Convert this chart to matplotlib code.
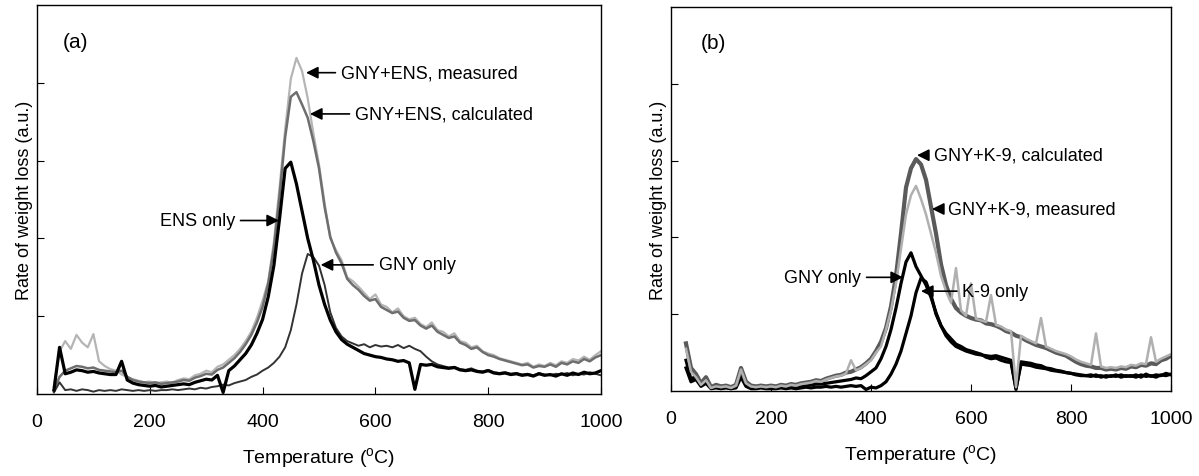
import numpy as np
import matplotlib
matplotlib.use("Agg")
import matplotlib.pyplot as plt

plt.rcParams['font.family'] = ['Liberation Sans', 'DejaVu Sans']
plt.rcParams['mathtext.fontset'] = 'custom'
plt.rcParams['mathtext.rm'] = 'Liberation Sans'

# Temperature grid (oC) shared by all curves
temp = np.arange(30, 1001, 10)

# (a) GNY + ENS
a_measured = [
    0.10, 0.55, 0.68, 0.58, 0.76, 0.66, 0.60, 0.77, 0.42, 0.36,
    0.32, 0.30, 0.25, 0.22, 0.19, 0.17, 0.15, 0.16, 0.14, 0.15,
    0.16, 0.14, 0.18, 0.20, 0.19, 0.24, 0.26, 0.30, 0.28, 0.35,
    0.38, 0.44, 0.50, 0.58, 0.68, 0.80, 0.98, 1.20, 1.45, 1.95,
    2.65, 3.40, 4.05, 4.32, 4.15, 3.80, 3.35, 2.95, 2.45, 2.00,
    1.85, 1.72, 1.50, 1.45, 1.38, 1.30, 1.22, 1.28, 1.15, 1.12,
    1.05, 1.10, 1.00, 0.96, 0.98, 0.90, 0.86, 0.92, 0.82, 0.80,
    0.74, 0.78, 0.68, 0.66, 0.60, 0.62, 0.55, 0.52, 0.50, 0.46,
    0.44, 0.42, 0.40, 0.38, 0.40, 0.35, 0.38, 0.36, 0.40, 0.37,
    0.42, 0.40, 0.45, 0.43, 0.48, 0.44, 0.50, 0.55]
a_calculated = [
    0.05, 0.22, 0.30, 0.33, 0.36, 0.35, 0.33, 0.34, 0.31, 0.30,
    0.29, 0.28, 0.30, 0.22, 0.18, 0.16, 0.15, 0.14, 0.15, 0.13,
    0.14, 0.15, 0.16, 0.18, 0.17, 0.21, 0.23, 0.26, 0.25, 0.31,
    0.34, 0.40, 0.46, 0.54, 0.64, 0.76, 0.92, 1.12, 1.42, 1.88,
    2.55, 3.30, 3.82, 3.88, 3.72, 3.55, 3.25, 2.90, 2.40, 2.02,
    1.82, 1.68, 1.48, 1.40, 1.34, 1.26, 1.20, 1.22, 1.12, 1.08,
    1.04, 1.06, 0.98, 0.94, 0.95, 0.88, 0.84, 0.88, 0.80, 0.76,
    0.72, 0.74, 0.66, 0.63, 0.58, 0.60, 0.54, 0.50, 0.48, 0.45,
    0.43, 0.41, 0.39, 0.37, 0.38, 0.34, 0.36, 0.35, 0.38, 0.35,
    0.40, 0.38, 0.42, 0.40, 0.45, 0.42, 0.47, 0.50]
a_ens = [
    0.05, 0.60, 0.26, 0.28, 0.31, 0.30, 0.28, 0.29, 0.27, 0.26,
    0.25, 0.25, 0.42, 0.18, 0.14, 0.12, 0.11, 0.10, 0.11, 0.09,
    0.10, 0.11, 0.12, 0.13, 0.12, 0.15, 0.17, 0.19, 0.18, 0.24,
    0.02, 0.30, 0.36, 0.44, 0.52, 0.63, 0.78, 0.96, 1.25, 1.65,
    2.25, 2.90, 2.98, 2.70, 2.35, 2.00, 1.72, 1.40, 1.15, 0.95,
    0.80, 0.70, 0.64, 0.60, 0.56, 0.52, 0.50, 0.48, 0.47, 0.45,
    0.44, 0.42, 0.43, 0.40, 0.06, 0.38, 0.37, 0.38, 0.35, 0.34,
    0.33, 0.34, 0.31, 0.30, 0.31, 0.29, 0.28, 0.30, 0.27, 0.26,
    0.27, 0.25, 0.26, 0.24, 0.25, 0.23, 0.26, 0.24, 0.25, 0.23,
    0.26, 0.24, 0.27, 0.25, 0.28, 0.26, 0.27, 0.30]
a_gny = [
    0.02, 0.15, 0.05, 0.06, 0.04, 0.06, 0.05, 0.03, 0.05, 0.04,
    0.05, 0.04, 0.06, 0.05, 0.04, 0.05, 0.04, 0.05, 0.04, 0.05,
    0.05, 0.06, 0.05, 0.06, 0.07, 0.06, 0.08, 0.07, 0.09, 0.10,
    0.12, 0.11, 0.14, 0.16, 0.18, 0.22, 0.25, 0.30, 0.34, 0.40,
    0.48, 0.60, 0.82, 1.15, 1.55, 1.80, 1.76, 1.65, 1.40, 1.05,
    0.85, 0.74, 0.68, 0.65, 0.62, 0.64, 0.60, 0.63, 0.61, 0.62,
    0.60, 0.63, 0.59, 0.62, 0.58, 0.55, 0.48, 0.42, 0.38, 0.36,
    0.34, 0.35, 0.32, 0.31, 0.33, 0.30, 0.29, 0.31, 0.28, 0.27,
    0.28, 0.26, 0.27, 0.25, 0.26, 0.24, 0.27, 0.25, 0.24, 0.26,
    0.25, 0.27, 0.24, 0.26, 0.25, 0.28, 0.26, 0.24]

# (b) GNY + K-9
b_calculated = [
    0.62, 0.30, 0.22, 0.10, 0.18, 0.05, 0.08, 0.06, 0.07, 0.05,
    0.08, 0.30, 0.12, 0.07, 0.06, 0.07, 0.06, 0.07, 0.06, 0.08,
    0.07, 0.09, 0.08, 0.10, 0.11, 0.12, 0.14, 0.13, 0.16, 0.18,
    0.20, 0.21, 0.24, 0.25, 0.28, 0.31, 0.36, 0.42, 0.52, 0.64,
    0.82, 1.10, 1.50, 2.05, 2.65, 2.90, 3.02, 2.95, 2.75, 2.40,
    2.05, 1.65, 1.38, 1.20, 1.08, 1.02, 0.98, 0.95, 0.93, 0.92,
    0.88, 0.87, 0.85, 0.82, 0.78, 0.76, 0.72, 0.70, 0.66, 0.63,
    0.60, 0.58, 0.56, 0.53, 0.50, 0.48, 0.46, 0.42, 0.38, 0.35,
    0.33, 0.32, 0.30, 0.30, 0.28, 0.29, 0.28, 0.30, 0.29, 0.32,
    0.31, 0.34, 0.33, 0.36, 0.35, 0.40, 0.42, 0.46]
b_measured = [
    0.55, 0.25, 0.18, 0.08, 0.14, 0.04, 0.06, 0.05, 0.06, 0.04,
    0.07, 0.28, 0.10, 0.06, 0.05, 0.06, 0.05, 0.06, 0.05, 0.07,
    0.06, 0.08, 0.07, 0.09, 0.10, 0.11, 0.13, 0.12, 0.15, 0.17,
    0.19, 0.20, 0.23, 0.40, 0.27, 0.30, 0.35, 0.40, 0.50, 0.58,
    0.80, 1.05, 1.40, 1.85, 2.30, 2.55, 2.67, 2.50, 2.30, 2.05,
    1.80, 1.50, 1.30, 1.15, 1.60, 1.05, 0.98, 1.40, 0.94, 0.92,
    0.90, 1.25, 0.86, 0.84, 0.80, 0.78, 0.05, 0.72, 0.68, 0.65,
    0.62, 0.95, 0.58, 0.55, 0.52, 0.50, 0.48, 0.45, 0.41, 0.38,
    0.36, 0.34, 0.75, 0.32, 0.30, 0.31, 0.30, 0.32, 0.31, 0.34,
    0.33, 0.36, 0.35, 0.70, 0.38, 0.42, 0.45, 0.48]
b_gny = [
    0.40, 0.15, 0.20, 0.08, 0.12, 0.04, 0.05, 0.04, 0.05, 0.03,
    0.06, 0.22, 0.08, 0.04, 0.04, 0.05, 0.04, 0.05, 0.04, 0.05,
    0.05, 0.06, 0.05, 0.07, 0.07, 0.08, 0.09, 0.09, 0.10, 0.11,
    0.12, 0.13, 0.14, 0.15, 0.17, 0.16, 0.20, 0.25, 0.30, 0.42,
    0.58, 0.80, 1.08, 1.40, 1.68, 1.80, 1.62, 1.50, 1.38, 1.22,
    1.02, 0.85, 0.72, 0.64, 0.58, 0.55, 0.52, 0.50, 0.48, 0.47,
    0.46, 0.45, 0.46, 0.44, 0.42, 0.40, 0.02, 0.38, 0.37, 0.36,
    0.34, 0.33, 0.30, 0.29, 0.27, 0.26, 0.24, 0.23, 0.22, 0.21,
    0.20, 0.21, 0.19, 0.20, 0.18, 0.20, 0.19, 0.21, 0.19, 0.20,
    0.18, 0.21, 0.19, 0.20, 0.18, 0.21, 0.20, 0.22]
b_k9 = [
    0.30, 0.12, 0.15, 0.06, 0.10, 0.03, 0.04, 0.03, 0.04, 0.03,
    0.04, 0.18, 0.06, 0.03, 0.03, 0.04, 0.03, 0.03, 0.03, 0.04,
    0.03, 0.04, 0.03, 0.04, 0.05, 0.04, 0.05, 0.05, 0.06, 0.05,
    0.06, 0.05, 0.06, 0.07, 0.06, 0.07, 0.02, 0.05, 0.04, 0.07,
    0.12, 0.22, 0.35, 0.52, 0.75, 0.98, 1.28, 1.47, 1.42, 1.25,
    1.00, 0.85, 0.75, 0.68, 0.61, 0.58, 0.54, 0.52, 0.50, 0.48,
    0.44, 0.42, 0.43, 0.40, 0.38, 0.37, 0.03, 0.35, 0.34, 0.33,
    0.31, 0.30, 0.29, 0.27, 0.26, 0.25, 0.24, 0.23, 0.21, 0.20,
    0.20, 0.19, 0.21, 0.18, 0.20, 0.19, 0.21, 0.18, 0.20, 0.19,
    0.21, 0.18, 0.22, 0.19, 0.21, 0.20, 0.23, 0.21]

xticks = [0, 200, 400, 600, 800, 1000]
yticks = [1, 2, 3, 4]

fig = plt.figure(figsize=(11.99, 4.77), dpi=100)
ax_a = fig.add_axes([37 / 1199, 82 / 477, 564 / 1199, 389 / 477])
ax_b = fig.add_axes([671 / 1199, 85 / 477, 500 / 1199, 384 / 477])


def style_axis(ax):
    ax.set_xlim(0, 1000)
    ax.set_ylim(0, 5)
    ax.set_xticks(xticks)
    ax.set_yticks(yticks)
    ax.tick_params(direction='in', length=5, width=0.8, labelsize=14, pad=14,
                   labelleft=False)
    for s in ax.spines.values():
        s.set_linewidth(1.0)
    ax.set_xlabel('Temperature ($^{\\rm o}$C)', fontsize=14, labelpad=11)
    ax.set_ylabel('Rate of weight loss (a.u.)', fontsize=13, labelpad=3)


arrow = dict(arrowstyle='-|>', color='black', lw=1.2, mutation_scale=18,
             shrinkA=2, shrinkB=0)

# panel (a)
ax_a.plot(temp, a_measured, color='#b5b5b5', lw=1.6)
ax_a.plot(temp, a_calculated, color='#6e6e6e', lw=1.8)
ax_a.plot(temp, a_gny, color='#333333', lw=1.4)
ax_a.plot(temp, a_ens, color='black', lw=2.3)
style_axis(ax_a)
ax_a.text(46, 4.53, '(a)', fontsize=15, va='center')
ax_a.annotate('GNY+ENS, measured', xy=(477, 4.13), xytext=(539, 4.13),
              fontsize=13, va='center', arrowprops=arrow)
ax_a.annotate('GNY+ENS, calculated', xy=(484, 3.6), xytext=(564, 3.6),
              fontsize=13, va='center', arrowprops=arrow)
ax_a.annotate('ENS only', xy=(429, 2.23), xytext=(351, 2.23),
              fontsize=13, va='center', ha='right', arrowprops=arrow)
ax_a.annotate('GNY only', xy=(503, 1.66), xytext=(606, 1.66),
              fontsize=13, va='center', arrowprops=arrow)

# panel (b)
ax_b.plot(temp, b_k9, color='black', lw=2.3)
ax_b.plot(temp, b_gny, color='black', lw=2.3)
ax_b.plot(temp, b_calculated, color='#5a5a5a', lw=3.0)
ax_b.plot(temp, b_measured, color='#b0b0b0', lw=1.8)
style_axis(ax_b)
ax_b.text(60, 4.54, '(b)', fontsize=15, va='center')
ax_b.annotate('GNY+K-9, calculated', xy=(492, 3.07), xytext=(526, 3.07),
              fontsize=13, va='center', arrowprops=arrow)
ax_b.annotate('GNY+K-9, measured', xy=(522, 2.37), xytext=(555, 2.37),
              fontsize=13, va='center', arrowprops=arrow)
ax_b.annotate('GNY only', xy=(464, 1.48), xytext=(380, 1.48),
              fontsize=13, va='center', ha='right', arrowprops=arrow)
ax_b.annotate('K-9 only', xy=(500, 1.30), xytext=(583, 1.30),
              fontsize=13, va='center', arrowprops=arrow)

fig.savefig('out.png', dpi=100)
